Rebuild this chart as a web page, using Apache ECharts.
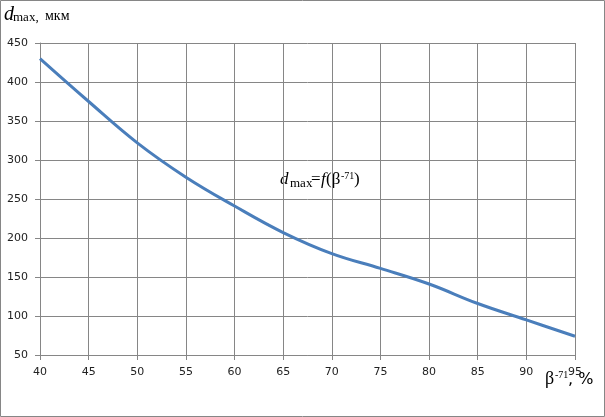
<!DOCTYPE html>
<html><head><meta charset="utf-8">
<script src="https://cdn.jsdelivr.net/npm/echarts@6/dist/echarts.min.js"></script>
<style>html,body{margin:0;padding:0;background:#fff}#c{width:605px;height:417px}</style>
</head><body><div id="c"></div>
<script>
const beta = [40,45,50,55,60,65,70,75,80,85,90,95];
const dmax = [430,375,322,278,241,207,180,161,141,116,95,74];
const xTicks = {min:40,max:95,step:5};
const yTicks = {min:50,max:450,step:50};

const chart = echarts.init(document.getElementById('c'), null, {renderer:'canvas'});
const gridColor = '#868686';
const serif = '"Liberation Serif","Times New Roman",serif';
const sans = '"DejaVu Sans",Verdana,sans-serif';
function T(left, top, text, size, fam, italic){
  return {type:'text',left:left,top:top,silent:true,
    style:{text:text,fontSize:size,fontFamily:fam,fontStyle:italic?'italic':'normal',fill:'#000'}};
}
chart.setOption({
  animation:false,
  grid:{left:40,right:30,top:43,bottom:62},
  xAxis:{type:'value',min:xTicks.min,max:xTicks.max,interval:xTicks.step,
    axisLine:{show:true,onZero:false,lineStyle:{color:gridColor,width:1}},
    axisTick:{show:true,length:5,lineStyle:{color:gridColor}},
    axisLabel:{color:'#222',fontFamily:sans,fontSize:11,margin:12},
    splitLine:{show:true,lineStyle:{color:gridColor,width:1}}},
  yAxis:{type:'value',min:yTicks.min,max:yTicks.max,interval:yTicks.step,
    axisLine:{show:true,lineStyle:{color:gridColor,width:1}},
    axisTick:{show:true,length:5,lineStyle:{color:gridColor}},
    axisLabel:{color:'#222',fontFamily:sans,fontSize:11,margin:12},
    splitLine:{show:true,lineStyle:{color:gridColor,width:1}}},
  series:[{type:'line',data:beta.map((b,i)=>[b,dmax[i]]),smooth:0.4,showSymbol:false,
    lineStyle:{color:'#4a7ebb',width:3}}],
  graphic:[
    {type:'rect',shape:{x:0.5,y:0.5,width:604,height:416},style:{fill:'none',stroke:gridColor,lineWidth:1},silent:true},
    // title
    T(4,5,'d',20,serif,true),
    T(13,11,'max,',13,serif,false),
    T(45,9,'мкм',14,serif,false),
    // annotation
    T(280,171,'d',17,serif,true),
    T(290,177,'max',13,serif,false),
    T(311,171,'=',17,serif,false),
    T(321,171,'f',17,serif,true),
    T(326,171,'(β',17,serif,false),
    T(341,171,'-71',10,serif,false),
    T(354,171,')',17,serif,false),
    // x axis name
    T(545,370,'β',18,serif,false),
    T(555,370,'-71',10,serif,false),
    T(568,372,', %',16,sans,false)
  ]
});
</script></body></html>
